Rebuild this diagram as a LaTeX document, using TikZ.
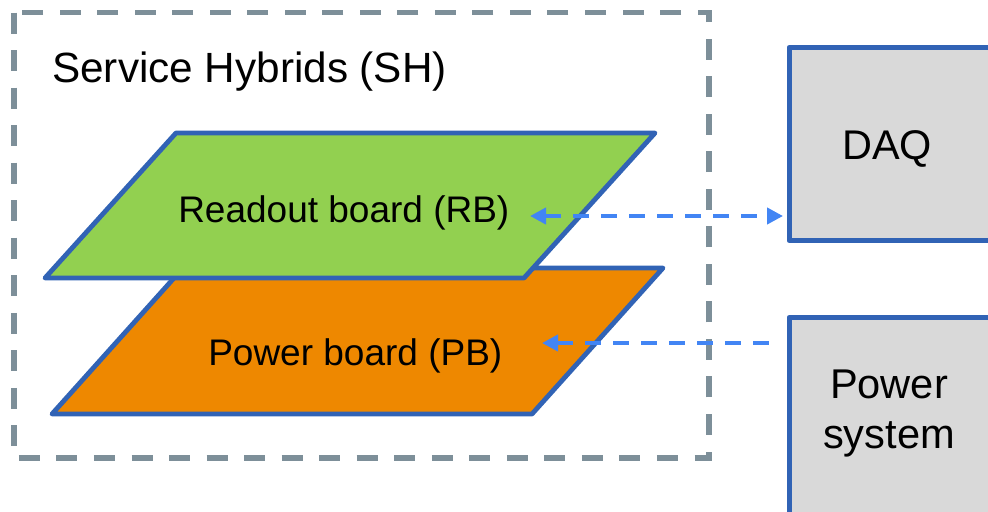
\documentclass[tikz,border=0pt]{standalone}
\usepackage{fontspec}
\setmainfont{Liberation Sans}
\usetikzlibrary{arrows.meta}
\definecolor{edgeblue}{RGB}{49,99,181}
\definecolor{linkblue}{RGB}{66,133,244}
\definecolor{framegrey}{RGB}{125,143,153}
\definecolor{rbgreen}{RGB}{146,208,80}
\definecolor{pborange}{RGB}{238,136,0}
\definecolor{boxgrey}{RGB}{217,217,217}
\tikzset{
  frame/.style={draw=framegrey, line width=3.9pt, dash pattern=on 15.75pt off 12.4pt},
  board/.style={draw=edgeblue, line width=3.6pt, line join=round},
  sysbox/.style={draw=edgeblue, fill=boxgrey, line width=3.9pt, line join=round},
  label/.style={inner sep=0pt, anchor=base west},
  link/.style={draw=linkblue, line width=3.4pt, dash pattern=on 12pt off 9pt,
    arrows={Triangle[length=12pt,width=12pt]-Triangle[length=12pt,width=12pt]}},
  linkback/.style={draw=linkblue, line width=3.4pt, dash pattern=on 12pt off 9pt,
    arrows={Triangle[length=12pt,width=12pt]-}}
}
\begin{document}
\begin{tikzpicture}[x=0.75pt, y=-0.75pt]
  \useasboundingbox (0,0) rectangle (988,511);
  \begin{scope}
    \clip (0,0) rectangle (988,511);

    % outer dashed frame of the service hybrids
    \draw[frame] (14,12.5) rectangle (709,458);
    \node[label, font=\fontsize{31.7}{36}\selectfont] (sh) at (52,82) {Service Hybrids (SH)};

    % power board (lower layer)
    \coordinate (pbA) at (52,414);
    \coordinate (pbB) at (532,414);
    \coordinate (pbC) at (663,268);
    \coordinate (pbD) at (183,268);
    \draw[board, fill=pborange] (pbA) -- (pbB) -- (pbC) -- (pbD) -- cycle;

    % readout board (upper layer)
    \coordinate (rbA) at (45,278);
    \coordinate (rbB) at (524,278);
    \coordinate (rbC) at (655,133);
    \coordinate (rbD) at (176,133);
    \draw[board, fill=rbgreen] (rbA) -- (rbB) -- (rbC) -- (rbD) -- cycle;

    \node[label, font=\fontsize{27.75}{32}\selectfont] (rb) at (178,222) {Readout board (RB)};
    \node[label, font=\fontsize{27.75}{32}\selectfont] (pb) at (208,365) {Power board (PB)};

    % external systems
    \node[sysbox, anchor=north west, minimum width=207*0.75pt, minimum height=193*0.75pt,
          inner sep=0pt] (daq) at (786.5,45) {};
    \node[label, font=\fontsize{31.1}{36}\selectfont] (daqtext) at (842,159) {DAQ};

    \node[sysbox, anchor=north west, minimum width=207*0.75pt, minimum height=205*0.75pt,
          inner sep=0pt] (pwr) at (786.5,315) {};
    \node[font=\fontsize{31.2}{37}\selectfont, align=center, inner sep=0pt, anchor=base]
          (pwrtext) at (889,448) {Power\\system};

    % data and power links
    \coordinate (rbport) at (530,216);
    \coordinate (pbport) at (542,343);
    \draw[link] (rbport) -- ([xshift=-2.6pt]daq.west |- rbport);
    \draw[linkback] (pbport) -- ([xshift=-9.5pt]pwr.west |- pbport);
  \end{scope}
\end{tikzpicture}
\end{document}
